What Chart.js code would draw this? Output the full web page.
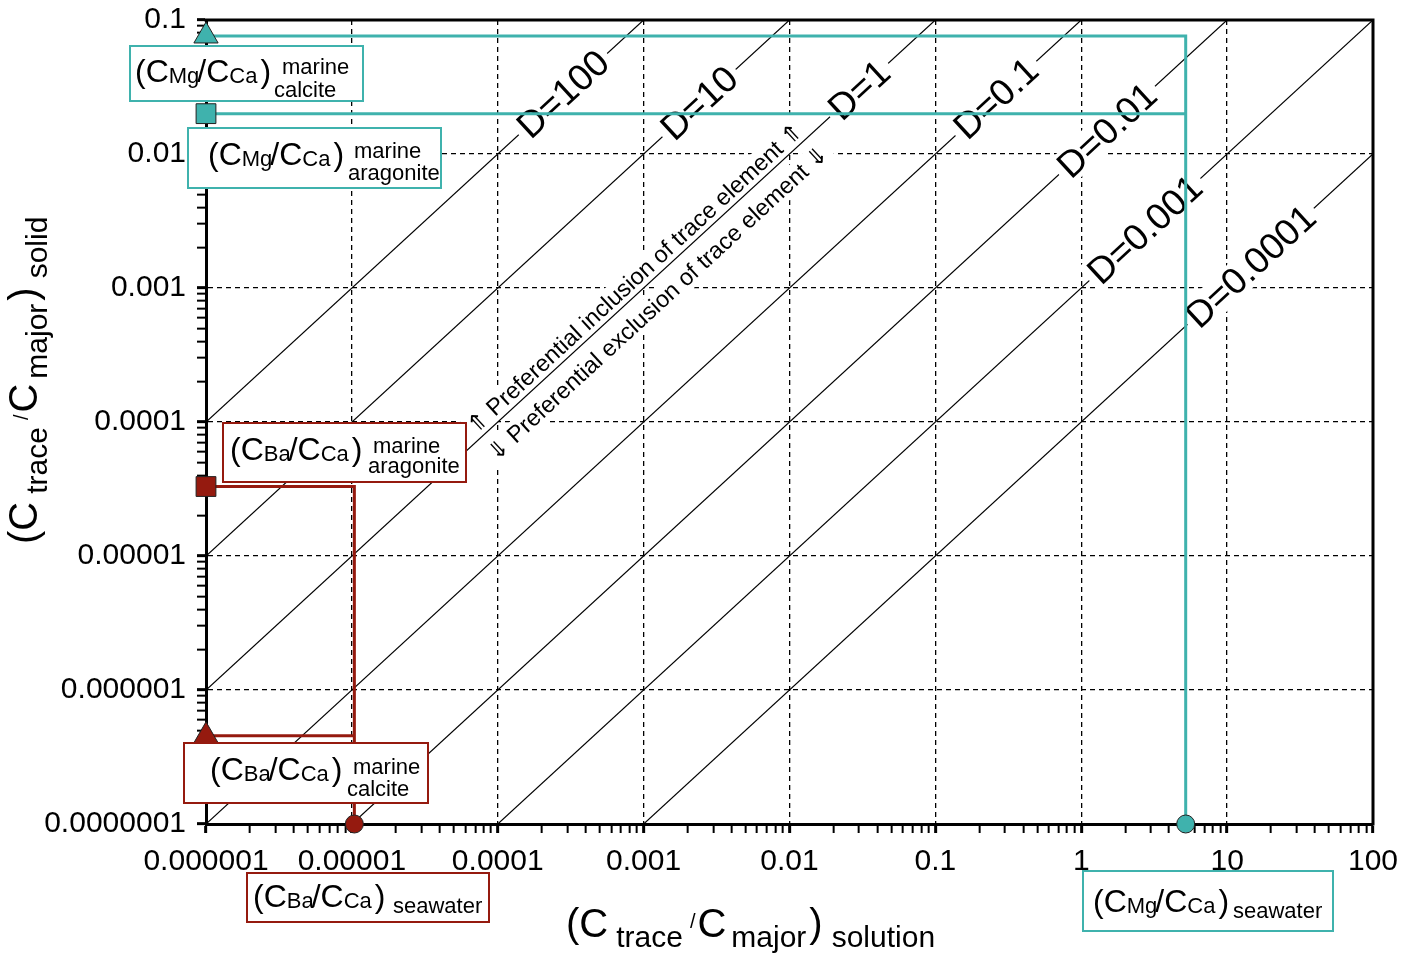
<!DOCTYPE html>
<html>
<head>
<meta charset="utf-8">
<script src="https://cdn.jsdelivr.net/npm/chart.js@4/dist/chart.umd.min.js"></script>
<style>
  html, body { margin: 0; padding: 0; background: #fff; }
  #contenedor { width: 1407px; height: 960px; position: relative; }
</style>
</head>
<body>
<div id="contenedor"><canvas id="grafico"></canvas></div>
<script>
// Ejes logarítmicos
const xTickValues = [1e-6, 1e-5, 1e-4, 1e-3, 1e-2, 1e-1, 1, 10, 100];
const xTickLabels = ['0.000001', '0.00001', '0.0001', '0.001', '0.01', '0.1', '1', '10', '100'];
const yTickValues = [1e-7, 1e-6, 1e-5, 1e-4, 1e-3, 1e-2, 1e-1];
const yTickLabels = ['0.0000001', '0.000001', '0.00001', '0.0001', '0.001', '0.01', '0.1'];

// Coeficientes de partición (rectas y = D·x) y dónde va cada etiqueta
const partitionD = [100, 10, 1, 0.1, 0.01, 0.001, 0.0001];
const partitionLabels = ['D=100', 'D=10', 'D=1', 'D=0.1', 'D=0.01', 'D=0.001', 'D=0.0001'];
const partitionLabelX = [2.8e-4, 2.4e-3, 3.0e-2, 0.26, 1.5, 2.73, 14.5];

// Mg/Ca
const mgcaSeawater = 5.2;
const mgcaCalcite = 0.076;
const mgcaAragonite = 0.02;

// Ba/Ca
const bacaSeawater = 1.04e-5;
const bacaAragonite = 3.3e-5;
const bacaCalcite = 4.55e-7;

const preferentialAt = 1e-3;

const FUENTE = '"Liberation Sans", Arial, "DejaVu Sans", sans-serif';
const CIAN = '#3fb2ad';
const ROJO = '#951a0f';

const xMin = xTickValues[0], xMax = xTickValues[xTickValues.length - 1];
const yMin = yTickValues[0], yMax = yTickValues[yTickValues.length - 1];

// posiciones de las cajas de texto (pixeles)
const cajas = [
  { r: [130, 46, 363, 101], color: CIAN, el: 'Mg', fx: 135, fy: 82, sub: ['marine', 'calcite'], sx: [282, 274], sy: [74, 97] },
  { r: [188, 128, 441, 188], color: CIAN, el: 'Mg', fx: 208, fy: 165, sub: ['marine', 'aragonite'], sx: [354, 348], sy: [158, 180] },
  { r: [223, 423, 466, 482], color: ROJO, el: 'Ba', fx: 230, fy: 460, sub: ['marine', 'aragonite'], sx: [373, 368], sy: [453, 473] },
  { r: [184, 743, 428, 803], color: ROJO, el: 'Ba', fx: 210, fy: 780, sub: ['marine', 'calcite'], sx: [353, 347], sy: [774, 796] },
  { r: [247, 873, 489, 922], color: ROJO, el: 'Ba', fx: 253, fy: 907, sub: ['seawater'], sx: [393], sy: [913] },
  { r: [1083, 871, 1333, 931], color: CIAN, el: 'Mg', fx: 1093, fy: 912, sub: ['seawater'], sx: [1233], sy: [918] }
];

function ticksLog(values) {
  const e0 = Math.round(Math.log10(values[0]));
  const e1 = Math.round(Math.log10(values[values.length - 1]));
  const ticks = [];
  for (let e = e0; e <= e1; e++) {
    for (let k = 1; k <= 9; k++) {
      if (e === e1 && k > 1) break;
      ticks.push({ value: Number((k * Math.pow(10, e)).toPrecision(2)) });
    }
  }
  return ticks;
}

function esMayor(v) {
  const l = Math.log10(v);
  return Math.abs(l - Math.round(l)) < 1e-6;
}

function etiqueta(valores, textos) {
  return function (v) {
    const i = valores.findIndex(t => Math.abs(Math.log10(t) - Math.log10(v)) < 1e-6);
    return i >= 0 ? textos[i] : '';
  };
}

// texto con subindices: [texto, tamaño, dy, espacio antes]
function textoRico(ctx, x, y, partes) {
  let cx = x;
  partes.forEach(([t, size, dy = 0, gap = 0]) => {
    ctx.font = `${size}px ${FUENTE}`;
    cx += gap;
    ctx.fillText(t, cx, y + dy);
    cx += ctx.measureText(t).width;
  });
  return cx;
}

function formula(el) {
  return [['(', 32], ['C', 32], [el, 22, 1], ['/', 32, 0, -2], ['C', 32], ['Ca', 22, 1], [')', 32, 0, 3]];
}

function dibujarEtiquetasD(chart) {
  const { ctx, scales: { x, y } } = chart;
  ctx.save();
  ctx.font = `37px ${FUENTE}`;
  partitionD.forEach((D, i) => {
    const xv = partitionLabelX[i];
    const px = x.getPixelForValue(xv), py = y.getPixelForValue(D * xv);
    const ang = Math.atan2(y.getPixelForValue(D * xv * 10) - py, x.getPixelForValue(xv * 10) - px);
    const w = ctx.measureText(partitionLabels[i]).width;
    ctx.save();
    ctx.translate(px, py);
    ctx.rotate(ang);
    ctx.fillStyle = '#fff';
    ctx.fillRect(-w / 2 - 5, -17, w + 10, 34);
    ctx.fillStyle = '#000';
    ctx.textAlign = 'center';
    ctx.textBaseline = 'middle';
    ctx.fillText(partitionLabels[i], 0, 2);
    ctx.restore();
  });
  ctx.restore();
}

function dibujarPreferencial(chart) {
  const { ctx, scales: { x, y } } = chart;
  const px = x.getPixelForValue(preferentialAt), py = y.getPixelForValue(preferentialAt);
  const ang = Math.atan2(y.getPixelForValue(preferentialAt * 10) - py, x.getPixelForValue(preferentialAt * 10) - px);
  const textos = [
    ['\u21D1 Preferential inclusion of trace element \u21D1', -13],
    ['\u21D3 Preferential exclusion of trace element \u21D3', 21]
  ];
  ctx.save();
  ctx.translate(px, py);
  ctx.rotate(ang);
  ctx.font = `23.5px ${FUENTE}`;
  ctx.textAlign = 'center';
  ctx.textBaseline = 'middle';
  textos.forEach(([t, off]) => {
    const w = ctx.measureText(t).width;
    ctx.fillStyle = '#fff';
    ctx.fillRect(-w / 2 - 5, off - 13, w + 10, 26);
    ctx.fillStyle = '#000';
    ctx.fillText(t, 0, off + 1);
  });
  ctx.restore();
}

let etiquetasHechas = false;

const decoraciones = {
  id: 'decoraciones',
  beforeDatasetsDraw(chart) {
    etiquetasHechas = false;
    dibujarPreferencial(chart);
  },
  beforeDatasetDraw(chart, args) {
    if (!etiquetasHechas && chart.data.datasets[args.index].tipo !== 'diag') {
      dibujarEtiquetasD(chart);
      etiquetasHechas = true;
    }
  },
  afterDatasetsDraw(chart) {
    const { ctx, chartArea: a } = chart;
    ctx.save();
    // marco superior y derecho
    ctx.strokeStyle = '#000';
    ctx.lineWidth = 3;
    ctx.beginPath();
    ctx.moveTo(a.left - 1.5, a.top);
    ctx.lineTo(a.right, a.top);
    ctx.lineTo(a.right, a.bottom + 1.5);
    ctx.stroke();

    // cajas
    ctx.textBaseline = 'alphabetic';
    ctx.textAlign = 'left';
    cajas.forEach(c => {
      const [x1, y1, x2, y2] = c.r;
      ctx.fillStyle = '#fff';
      ctx.fillRect(x1, y1, x2 - x1, y2 - y1);
      ctx.strokeStyle = c.color;
      ctx.lineWidth = 2;
      ctx.strokeRect(x1, y1, x2 - x1, y2 - y1);
      ctx.fillStyle = '#000';
      textoRico(ctx, c.fx, c.fy, formula(c.el));
      c.sub.forEach((s, i) => {
        ctx.font = `22px ${FUENTE}`;
        ctx.fillText(s, c.sx[i], c.sy[i]);
      });
    });

    // títulos de ejes
    const titulo = fin => [['(', 40], ['C', 40], ['trace', 30, 10, 8], ['/', 20, -9, 7], ['C', 40, 0, 2],
      ['major', 30, 10, 5], [')', 40, 0, 3], [fin, 30, 10, 9]];
    ctx.fillStyle = '#000';
    textoRico(ctx, 566, 937, titulo('solution'));
    ctx.save();
    ctx.translate(37, 544);
    ctx.rotate(-Math.PI / 2);
    textoRico(ctx, 0, 0, titulo('solid'));
    ctx.restore();
    ctx.restore();
  }
};

// rectas de D
const diagonales = partitionD.map(D => ({
  tipo: 'diag',
  data: [{ x: xMin, y: D * xMin }, { x: xMax, y: D * xMax }],
  showLine: true,
  borderColor: '#000',
  borderWidth: 1.2,
  pointRadius: 0,
  order: 10
}));

function linea(puntos, color) {
  return {
    tipo: 'serie', data: puntos, showLine: true, borderColor: color, borderWidth: 3,
    pointRadius: 0, clip: false, order: 2, borderJoinStyle: 'miter', borderCapStyle: 'butt'
  };
}

function marcador(punto, estilo, radio, color) {
  return {
    tipo: 'serie', data: [punto], pointStyle: estilo, pointRadius: radio,
    backgroundColor: color, borderColor: '#222', borderWidth: 1, clip: false, order: 1
  };
}

const datasets = [
  ...diagonales,
  linea([{ x: mgcaSeawater, y: yMin }, { x: mgcaSeawater, y: mgcaCalcite }, { x: xMin, y: mgcaCalcite }], CIAN),
  linea([{ x: mgcaSeawater, y: mgcaAragonite }, { x: xMin, y: mgcaAragonite }], CIAN),
  linea([{ x: bacaSeawater, y: yMin }, { x: bacaSeawater, y: bacaAragonite }, { x: xMin, y: bacaAragonite }], ROJO),
  linea([{ x: bacaSeawater, y: bacaCalcite }, { x: xMin, y: bacaCalcite }], ROJO),
  marcador({ x: mgcaSeawater, y: yMin }, 'circle', 9, CIAN),
  marcador({ x: xMin, y: mgcaCalcite }, 'triangle', 14, CIAN),
  marcador({ x: xMin, y: mgcaAragonite }, 'rect', 14, CIAN),
  marcador({ x: bacaSeawater, y: yMin }, 'circle', 9, ROJO),
  marcador({ x: xMin, y: bacaCalcite }, 'triangle', 14, ROJO),
  marcador({ x: xMin, y: bacaAragonite }, 'rect', 14, ROJO)
];

// quitar el relleno que Chart.js reserva para las etiquetas de los extremos
function sinRelleno(s) {
  s.paddingTop = 0;
  s.paddingBottom = 0;
  s.paddingLeft = 0;
  s.paddingRight = 0;
}

function ejeLog(valores, textos, extra) {
  return Object.assign({
    type: 'logarithmic',
    min: valores[0],
    max: valores[valores.length - 1],
    afterBuildTicks: scale => { scale.ticks = ticksLog(valores); },
    ticks: {
      callback: etiqueta(valores, textos),
      autoSkip: false,
      maxRotation: 0,
      minRotation: 0,
      color: '#000',
      font: { family: FUENTE, size: 30 },
      padding: 11
    },
    grid: {
      color: c => (c.tick && esMayor(c.tick.value) ? '#000' : 'rgba(0,0,0,0)'),
      lineWidth: 1.3,
      drawTicks: true,
      tickLength: 9,
      tickColor: '#000',
      tickWidth: c => (c.tick && esMayor(c.tick.value) ? 3 : 2)
    },
    border: { display: true, color: '#000', width: 3, dash: [5, 4] }
  }, extra);
}

new Chart(document.getElementById('grafico'), {
  type: 'scatter',
  data: { datasets },
  options: {
    responsive: true,
    maintainAspectRatio: false,
    animation: false,
    events: [],
    layout: { padding: { left: 0, top: 20, right: 34, bottom: 0 } },
    plugins: { legend: { display: false }, tooltip: { enabled: false } },
    scales: {
      x: ejeLog(xTickValues, xTickLabels, { position: 'bottom', afterFit: s => { s.height = 136; sinRelleno(s); } }),
      y: ejeLog(yTickValues, yTickLabels, { position: 'left', afterFit: s => { s.width = 206; sinRelleno(s); } })
    }
  },
  plugins: [decoraciones]
});
</script>
</body>
</html>
